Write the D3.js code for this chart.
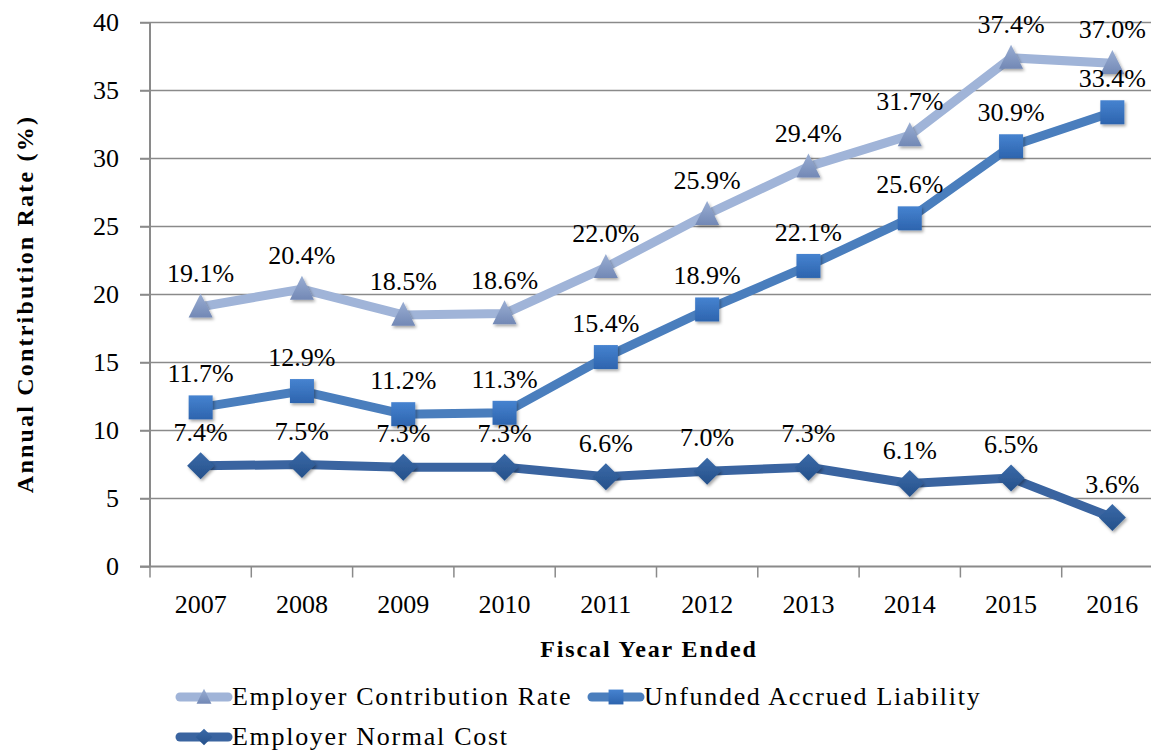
<!DOCTYPE html>
<html><head><meta charset="utf-8">
<script src="https://cdn.jsdelivr.net/npm/d3@7"></script>
<style>body{margin:0;background:#fff;} svg{display:block;}</style>
</head><body>
<svg id="c" width="1151" height="750"></svg>
<script>
const years = ["2007","2008","2009","2010","2011","2012","2013","2014","2015","2016"];
const employerContributionRate = [19.1,20.4,18.5,18.6,22.0,25.9,29.4,31.7,37.4,37.0];
const unfundedAccruedLiability = [11.7,12.9,11.2,11.3,15.4,18.9,22.1,25.6,30.9,33.4];
const employerNormalCost = [7.4,7.5,7.3,7.3,6.6,7.0,7.3,6.1,6.5,3.6];
const yTicks = [0,5,10,15,20,25,30,35,40];
const seriesNames = ["Employer Contribution Rate","Unfunded Accrued Liability","Employer Normal Cost"];

const svg = d3.select("#c");
const font = "'Liberation Serif', 'Times New Roman', serif";
const x = d3.scaleBand().domain(years).range([150, 150 + 10*101.3]);
const y = d3.scaleLinear().domain([0,40]).range([566.5, 22.5]);

const defs = svg.append("defs");
const f = defs.append("filter").attr("id","sh").attr("x","-50%").attr("y","-50%").attr("width","200%").attr("height","200%");
f.append("feDropShadow").attr("dx",1.5).attr("dy",2).attr("stdDeviation",1.6).attr("flood-color","#000").attr("flood-opacity",0.35);
function grad(id, c1, c2){
  const g = defs.append("linearGradient").attr("id",id).attr("x1",0).attr("y1",0).attr("x2",0).attr("y2",1);
  g.append("stop").attr("offset","0%").attr("stop-color",c1);
  g.append("stop").attr("offset","100%").attr("stop-color",c2);
}
grad("gT","#9AAED3","#7288B5");
grad("gS","#4683D0","#2D64AE");
grad("gD","#3A6AA8","#25508A");

// gridlines
svg.append("g").selectAll("line").data(yTicks.filter(d=>d>0)).join("line")
  .attr("x1",140).attr("x2",1151).attr("y1",d=>y(d)).attr("y2",d=>y(d))
  .attr("stroke","#8a8a8a").attr("stroke-width",1.5);

// y axis
const ya = svg.append("g").attr("transform","translate(150,0)")
  .call(d3.axisLeft(y).tickValues(yTicks).tickSize(10).tickPadding(21));
ya.select(".domain").attr("stroke","#8a8a8a").attr("stroke-width",2).attr("d","M0,22.5V566.5");
ya.selectAll(".tick line").attr("stroke","#8a8a8a").attr("stroke-width",1.5);
ya.selectAll("text").attr("font-family",font).attr("font-size",26).attr("fill","#000").attr("dy","0.32em");

// x axis
const xa = svg.append("g").attr("transform","translate(0,566.5)")
  .call(d3.axisBottom(x).tickSize(0).tickPadding(28));
xa.select(".domain").attr("stroke","#8a8a8a").attr("stroke-width",2).attr("d","M140,0H1151");
xa.selectAll("text").attr("font-family",font).attr("font-size",26).attr("fill","#000").attr("dy","0.71em");
xa.append("g").selectAll("line").data(d3.range(11)).join("line")
  .attr("x1",i=>150+i*x.step()).attr("x2",i=>150+i*x.step()).attr("y1",0).attr("y2",11)
  .attr("stroke","#8a8a8a").attr("stroke-width",1.5);

const cx = d => x(d) + x.bandwidth()/2;

function triangle(s){ return `M0,${-s*0.55}L${s*0.5},${s*0.45}L${-s*0.5},${s*0.45}Z`; }
function square(s){ const h=s/2; return `M${-h},${-h}H${h}V${h}H${-h}Z`; }
function diamond(s){ const h=s/2; return `M0,${-h}L${h},0L0,${h}L${-h},0Z`; }

const series = [
  {name:seriesNames[0], vals:employerContributionRate, line:"#A0B4D8", fill:"url(#gT)", shape:triangle, size:24},
  {name:seriesNames[1], vals:unfundedAccruedLiability, line:"#4A7EBD", fill:"url(#gS)", shape:square, size:24},
  {name:seriesNames[2], vals:employerNormalCost, line:"#3A64A0", fill:"url(#gD)", shape:diamond, size:27}
];

const line = d3.line().x((d,i)=>cx(years[i])).y(d=>y(d));
series.forEach(s=>{
  svg.append("path").datum(s.vals).attr("d",line).attr("fill","none")
    .attr("stroke",s.line).attr("stroke-width",9).attr("stroke-linejoin","round").attr("stroke-linecap","round");
});
series.forEach(s=>{
  svg.append("g").selectAll("path").data(s.vals).join("path")
    .attr("transform",(d,i)=>`translate(${cx(years[i])},${y(d)})`)
    .attr("d",s.shape(s.size)).attr("fill",s.fill).attr("filter","url(#sh)");
});
series.forEach(s=>{
  svg.append("g").selectAll("text").data(s.vals).join("text")
    .attr("x",(d,i)=>cx(years[i])).attr("y",d=>y(d)-25)
    .attr("text-anchor","middle").attr("font-family",font).attr("font-size",26).attr("fill","#000")
    .text(d=>d.toFixed(1)+"%");
});

// axis titles
svg.append("text").attr("transform","translate(33,304) rotate(-90)").attr("text-anchor","middle")
  .attr("font-family",font).attr("font-weight","bold").attr("font-size",24).attr("letter-spacing",2.2)
  .text("Annual Contribution Rate (%)");
svg.append("text").attr("x",649).attr("y",657).attr("text-anchor","middle")
  .attr("font-family",font).attr("font-weight","bold").attr("font-size",24).attr("letter-spacing",1.9)
  .text("Fiscal Year Ended");

// legend
const leg = [
  {s:series[0], x:176, y:697},
  {s:series[1], x:588, y:697},
  {s:series[2], x:176, y:737}
];
leg.forEach(l=>{
  const g = svg.append("g");
  g.append("line").attr("x1",l.x+4).attr("x2",l.x+52).attr("y1",l.y).attr("y2",l.y)
    .attr("stroke",l.s.line).attr("stroke-width",9).attr("stroke-linecap","round");
  g.append("path").attr("transform",`translate(${l.x+28},${l.y})`).attr("d",l.s.shape(l.s.size*0.62)).attr("fill",l.s.fill);
  g.append("text").attr("x",l.x+56).attr("y",l.y+8).attr("font-family",font).attr("font-size",26)
    .attr("letter-spacing",1.7).text(l.s.name);
});
</script>
</body></html>
